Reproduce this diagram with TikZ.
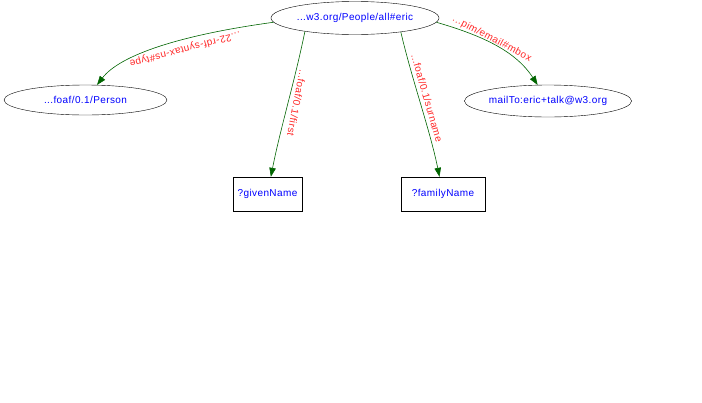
\documentclass[tikz,border=0pt]{standalone}
\usepackage{fontspec}
\setmainfont{Liberation Sans}[LetterSpace=4]
\usetikzlibrary{shapes.geometric,arrows.meta}
\definecolor{edgegreen}{RGB}{0,100,0}
\definecolor{labred}{RGB}{255,40,40}
\definecolor{nodeblue}{RGB}{0,0,255}
\tikzset{
  ell/.style={draw=black, ellipse, inner sep=0pt, text=nodeblue, font=\fontsize{10}{12}\selectfont},
  varbox/.style={draw=black, rectangle, inner sep=0pt, text=nodeblue, font=\fontsize{10}{12}\selectfont},
  rel/.style={draw=edgegreen, -{Triangle[length=9pt,width=6.5pt]}, line width=0.6pt},
  lab/.style={text=labred, font=\fontsize{10}{12}\selectfont, inner sep=0pt}
}
\begin{document}
\begin{tikzpicture}[x=1pt,y=-1pt]
\useasboundingbox (0,0) rectangle (702,402);
\node[ell, minimum width=168pt, minimum height=33pt] (eric) at (355,18) {...w3.org/People/all\#eric};
\node[ell, minimum width=163pt, minimum height=30pt] (person) at (85.5,100) {...foaf/0.1/Person};
\node[ell, minimum width=166pt, minimum height=32pt] (mail) at (548,101) {mailTo:eric+talk@w3.org};
\node[varbox, minimum width=69pt, minimum height=34pt] (given) at (267.5,194) {?givenName};
\node[varbox, minimum width=84pt, minimum height=34pt] (family) at (443,194) {?familyName};

\draw[rel] (eric.183) .. controls (180,35) and (120,55) .. (person);
\draw[rel] (eric.357) .. controls (480,35) and (515,50) .. (mail);
\draw[rel] (eric.195) .. controls (295,80) and (280,130) .. (given);
\draw[rel] (eric.343) .. controls (412,80) and (430,130) .. (family);

\node[lab, rotate=195] (ltype) at (185,49) {...22-rdf-syntax-ns\#type};
\node[lab, rotate=-28] (lmbox) at (492,39) {...pim/email\#mbox};
\node[lab, rotate=-101] (lfirst) at (297,103) {...foaf/0.1/first};
\node[lab, rotate=-74] (lsur) at (427,98) {...foaf/0.1/surname};
\end{tikzpicture}
\end{document}
